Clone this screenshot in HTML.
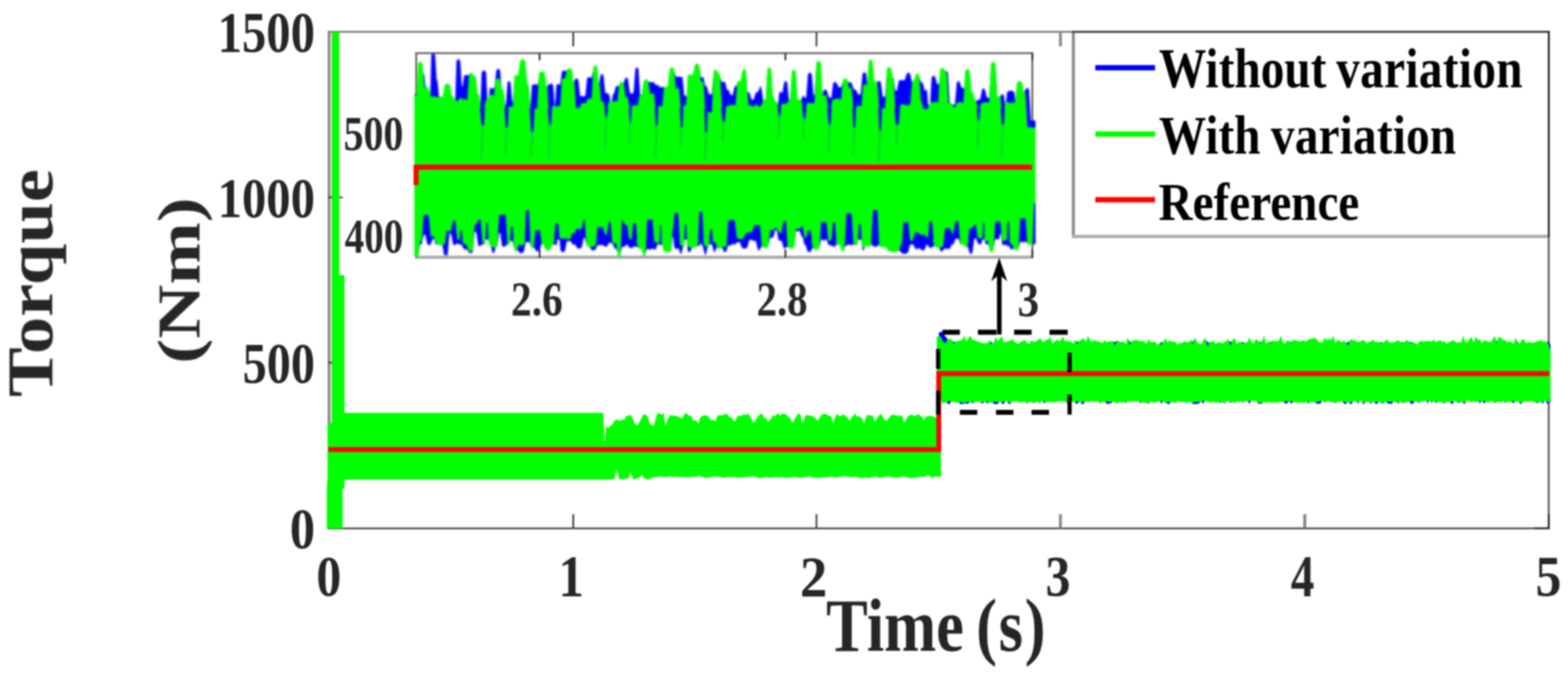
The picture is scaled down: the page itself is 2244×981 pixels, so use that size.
<!DOCTYPE html>
<html lang="en">
<head>
<meta charset="utf-8">
<title>Torque (Nm) - Time (s)</title>
<style>
html,body{margin:0;padding:0;background:#fff;}
body{width:2244px;height:981px;overflow:hidden;}
svg{display:block;}
svg text{font-family:"Liberation Serif",serif;font-weight:bold;}
</style>
</head>
<body>
<svg width="2244" height="981" viewBox="0 0 2244 981">
<defs><filter id="blurPlot" color-interpolation-filters="sRGB" filterUnits="userSpaceOnUse" x="0" y="0" width="2244" height="981"><feGaussianBlur stdDeviation="1.1"/></filter><filter id="blurText" color-interpolation-filters="sRGB" filterUnits="userSpaceOnUse" x="0" y="0" width="2244" height="981"><feGaussianBlur stdDeviation="0.9"/></filter><filter id="soft" color-interpolation-filters="sRGB" x="-2%" y="-5%" width="104%" height="110%"><feGaussianBlur stdDeviation="1.1"/></filter><filter id="soft2" color-interpolation-filters="sRGB" x="-2%" y="-2%" width="104%" height="104%"><feGaussianBlur stdDeviation="0.7"/></filter></defs>
<rect width="2244" height="981" fill="#fff"/>
<g id="plot" filter="url(#blurPlot)">
<g fill="none">
<path d="M473 45 V757" stroke="#c4c4c4" stroke-width="3"/>
<path d="M470.4 45 V757" stroke="#7c7c7c" stroke-width="2.8"/>
<path d="M469 45.6 H2217.6" stroke="#808080" stroke-width="2.6"/>
<path d="M2216.4 45 V757" stroke="#5e5e5e" stroke-width="2.8"/>
<path d="M469 756.7 H2217.6" stroke="#484848" stroke-width="2.4"/>
<path d="M820.4 756.5 V736.2 M820.4 46 V66.5" stroke="#2c2c2c" stroke-width="2.3"/>
<path d="M1168.5 756.5 V736.2 M1168.5 46 V66.5" stroke="#363636" stroke-width="2.3"/>
<path d="M1517.6 756.5 V736.2 M1517.6 46 V66.5" stroke="#8a8a8a" stroke-width="4.2"/>
<path d="M1867.3 756.5 V736.2 M1867.3 46 V66.5" stroke="#828282" stroke-width="4.2"/>
<path d="M469.5 282.6 H490.6 M2217 282.6 H2196" stroke="#3c3c3c" stroke-width="2.4"/>
<path d="M469.5 519.4 H490.6 M2217 519.4 H2196" stroke="#3c3c3c" stroke-width="2.4"/>
<path d="M2216.3 736 V757.6 M2196 756.8 H2217.4 M470.3 736 V757.6 M469 756.8 H490" stroke="#2a2a2a" stroke-width="2.6"/>
</g>
<g filter="url(#soft2)">
<path d="M1344 491.3 1347 489.9 1350 492.2 1353 494.8 1356 488.9 1359 489.5 1362 488.5 1365 489.5 1368 491.3 1371 491.7 1374 490.2 1377 489.9 1380 483.5 1383 492.1 1386 486.9 1389 483.8 1392 489.7 1395 490.3 1398 491.7 1401 492.3 1404 494.1 1407 494.5 1410 493.9 1413 494.5 1416 489.5 1419 489.5 1422 494.1 1425 485.6 1428 491.8 1431 487.8 1434 484.6 1437 493.3 1440 492.5 1443 491.2 1446 491 1449 488.3 1452 492.5 1455 493.9 1458 495.1 1461 491.9 1464 491.4 1467 489.6 1470 494.2 1473 495.2 1476 490.6 1479 492.4 1482 492 1485 490.7 1488 486.8 1491 489.5 1494 493 1497 488.9 1500 490.1 1503 485.2 1506 494.4 1509 489.5 1512 488.9 1515 491.3 1518 490.5 1521 484.8 1524 491.2 1527 491.3 1530 491.7 1533 492.1 1536 494.9 1539 488.9 1542 489.5 1545 489.5 1548 489.5 1551 487.1 1554 493 1557 483.7 1560 490.3 1563 492.7 1566 489.6 1569 491.8 1572 491.6 1575 493.4 1578 493.8 1581 490 1584 493.6 1587 491.6 1590 492 1593 489.5 1596 489.5 1599 489.4 1602 492.3 1605 489.5 1608 491.2 1611 495.8 1614 485.7 1617 489.5 1620 490.8 1623 490.5 1626 489.5 1629 490.7 1632 491.7 1635 490.2 1638 493.5 1641 494.8 1644 488.7 1647 493.4 1650 492.2 1653 492.3 1656 496.7 1659 494.2 1662 489.5 1665 492.1 1668 487.5 1671 493.3 1674 489.5 1677 492.2 1680 492 1683 493.7 1686 495.9 1689 493.8 1692 494.3 1695 491.3 1698 492.7 1701 493.3 1704 488.9 1707 489.5 1710 486.1 1713 489.5 1716 495.1 1719 496 1722 490.4 1725 486.3 1728 489.5 1731 492 1734 489.5 1737 490.6 1740 495.8 1743 493.1 1746 493.3 1749 494.2 1752 493.2 1755 491.1 1758 488.6 1761 489.5 1764 489.6 1767 487 1770 495.3 1773 492.9 1776 491.9 1779 489.5 1782 493.3 1785 493.6 1788 485.9 1791 492.2 1794 495.2 1797 488.8 1800 490.3 1803 489.5 1806 489.5 1809 483.6 1812 495 1815 491.7 1818 489.5 1821 490.6 1824 491.6 1827 491.6 1830 491.1 1833 483.9 1836 493.1 1839 494.9 1842 490.7 1845 490.7 1848 489.5 1851 488.9 1854 490.6 1857 491 1860 492.1 1863 491.3 1866 490 1869 492.4 1872 489.4 1875 488.3 1878 487.7 1881 486.7 1884 488.3 1887 492.7 1890 493.1 1893 493.4 1896 485.9 1899 490.7 1902 487.3 1905 490.6 1908 483.5 1911 494.3 1914 490 1917 490.7 1920 492.8 1923 490.9 1926 492.7 1929 489.5 1932 489 1935 489.9 1938 489.7 1941 492.1 1944 492.6 1947 491.9 1950 490.3 1953 490.7 1956 494.2 1959 489.5 1962 492.1 1965 489.2 1968 493.1 1971 492.4 1974 492.3 1977 489.5 1980 493.4 1983 489.9 1986 489.9 1989 494.6 1992 492.2 1995 493.6 1998 491.6 2001 489.9 2004 492.4 2007 489.5 2010 492.6 2013 489.7 2016 491.3 2019 489.5 2022 492.3 2025 494 2028 495.9 2031 492.4 2034 491.1 2037 492.1 2040 492 2043 491.1 2046 492 2049 492 2052 489.6 2055 493.1 2058 491.3 2061 490 2064 493 2067 491 2070 495.5 2073 492.9 2076 492.1 2079 490.5 2082 491.2 2085 493.7 2088 489.5 2091 493.5 2094 483.5 2097 492.4 2100 493.6 2103 488.6 2106 485.3 2109 494 2112 485.1 2115 490 2118 488.7 2121 494.4 2124 489.8 2127 491.6 2130 492.6 2133 492.8 2136 489.5 2139 483.5 2142 489.5 2145 484.9 2148 486.7 2151 489.5 2154 490.2 2157 492.8 2160 492.1 2163 491.9 2166 495.3 2169 486.2 2172 489.5 2175 494.5 2178 489.7 2181 488.7 2184 494.6 2187 489.5 2190 493.2 2193 493.3 2196 493.8 2199 491.1 2202 491.8 2205 489.8 2208 492.3 2211 492.5 2214 491.1 2217 489.5 L2219 495 V574 L2217 578.1 2214 578 2211 571.4 2208 578.7 2205 572.7 2202 574.6 2199 577.7 2196 573.1 2193 572 2190 571.6 2187 572.5 2184 571.4 2181 571.8 2178 577.9 2175 578.3 2172 571.7 2169 572.6 2166 578 2163 573.5 2160 572.2 2157 572.7 2154 577.7 2151 570.7 2148 574.2 2145 572.2 2142 573 2139 577.8 2136 571.9 2133 571 2130 573.9 2127 573 2124 578.4 2121 572.5 2118 578.3 2115 572.2 2112 573.1 2109 570.7 2106 574 2103 571.4 2100 569.4 2097 578.3 2094 577.8 2091 572.7 2088 577.7 2085 573.6 2082 570.9 2079 578.6 2076 577.7 2073 572.4 2070 572.9 2067 578.2 2064 573.7 2061 572.5 2058 572.9 2055 577.8 2052 572 2049 577.8 2046 571.8 2043 578 2040 570.5 2037 572.5 2034 571.4 2031 578 2028 572.4 2025 572.7 2022 578.4 2019 578.3 2016 572.6 2013 573.1 2010 574.2 2007 577.7 2004 572.5 2001 578.4 1998 573 1995 572.8 1992 578.7 1989 577.7 1986 578.1 1983 572.8 1980 578.1 1977 577.6 1974 573.3 1971 578.5 1968 577.8 1965 572.9 1962 578.8 1959 572.9 1956 572.6 1953 577.7 1950 578.5 1947 569.7 1944 578.5 1941 573.2 1938 570.2 1935 577.9 1932 578.8 1929 573.8 1926 578.8 1923 577.7 1920 571.6 1917 572.2 1914 572.8 1911 577.7 1908 573.2 1905 573.6 1902 571.3 1899 571 1896 574.7 1893 570.4 1890 577.7 1887 578 1884 578.5 1881 573.9 1878 572 1875 573.9 1872 578.3 1869 572.6 1866 574.6 1863 573.3 1860 573.5 1857 574 1854 573 1851 573.9 1848 578.6 1845 573.5 1842 577.6 1839 578 1836 572.8 1833 572.5 1830 572.5 1827 574.3 1824 572.9 1821 573.9 1818 573.1 1815 572.3 1812 574.3 1809 572.3 1806 578.5 1803 577.8 1800 578.5 1797 570.5 1794 570.9 1791 571.6 1788 578.7 1785 572.1 1782 571.2 1779 577.8 1776 571.3 1773 572.9 1770 571.5 1767 578.1 1764 572.8 1761 577.8 1758 571 1755 572.6 1752 578.7 1749 573.2 1746 577.8 1743 572.8 1740 574.4 1737 571.7 1734 573.3 1731 573.6 1728 572.3 1725 571 1722 578.6 1719 573.5 1716 577.8 1713 578.6 1710 578.6 1707 578.8 1704 573.6 1701 572.2 1698 578.4 1695 572.5 1692 573 1689 572.5 1686 570.4 1683 577.8 1680 573.2 1677 573 1674 578 1671 578.7 1668 574.7 1665 572.6 1662 578.4 1659 571.7 1656 572.4 1653 573.5 1650 573.3 1647 572.1 1644 578.7 1641 574.5 1638 574.6 1635 572.8 1632 578.4 1629 571.5 1626 572.6 1623 571.8 1620 572.4 1617 571.8 1614 572.1 1611 577.9 1608 573 1605 574.1 1602 572.5 1599 575 1596 573.5 1593 572.4 1590 577.7 1587 577.7 1584 578.7 1581 573.6 1578 572.1 1575 578.7 1572 572.5 1569 571.4 1566 572.6 1563 571.6 1560 571.8 1557 573.2 1554 571.5 1551 578.3 1548 578.7 1545 573.2 1542 578.2 1539 577.7 1536 572 1533 573.2 1530 572.9 1527 578.3 1524 571.8 1521 571.7 1518 571.5 1515 571.9 1512 572.2 1509 573.4 1506 572.9 1503 572.4 1500 572.8 1497 573.8 1494 577.9 1491 571.1 1488 578.6 1485 572 1482 573.4 1479 577.9 1476 572.8 1473 573.2 1470 578.2 1467 572.8 1464 571.8 1461 574 1458 572.8 1455 571.7 1452 571.6 1449 572.2 1446 578.8 1443 578.1 1440 571.4 1437 578 1434 578.6 1431 572.7 1428 578.7 1425 578.8 1422 578.2 1419 574 1416 573.9 1413 578.2 1410 573.5 1407 577.6 1404 577.6 1401 571.5 1398 572.7 1395 573.2 1392 578.2 1389 573.4 1386 578.3 1383 578 1380 577.9 1377 578.5 1374 578.6 1371 573.8 1368 573.4 1365 572.5 1362 572.5 1359 578.7 1356 578 1353 573 1350 578.3 1347 571.6 1344 578.4Z" fill="#0000ff"/>
<path d="M1343.5 476.5 L1347.5 474.8 L1351.5 480 L1357 486.5 L1356 492.5 L1351 493.5 L1347.5 488 L1344 483 Z" fill="#0000ff"/>
<path d="M475 46 H485.6 V394 H493 V591.2 H863.6 V600 L864.8 631 L865.8 631 L867 612.5 L868 610.6 870 613 872 611.4 874 609.3 876 609.1 878 604.4 880 601.7 882 601.4 884 600.8 886 601.7 888 602.6 890 600.8 892 600.6 894 600.6 896 595.5 898 595.9 900 594.7 902 593.9 904 596.4 906 600 908 605 910 608.4 912 608.4 914 606.8 916 602.3 918 599 920 594.5 922 592.7 924 594.4 926 594.9 928 599.5 930 606.9 932 608.2 934 608.4 936 609.1 938 600.7 940 593.7 942 592 944 591.2 946 594.1 948 593.2 950 591.2 952 608.7 954 606 956 598.7 958 596.2 960 593.4 962 596.3 964 594.3 966 595.5 968 596.1 970 596.6 972 596.8 974 598.8 976 599 978 596.2 980 592.1 982 591.4 984 594.1 986 594.6 988 596.1 990 596.7 992 602.3 994 602.6 996 601.6 998 604.9 1000 606.5 1002 597.7 1004 596.6 1006 595.2 1008 594.7 1010 594.7 1012 595.5 1014 596.5 1016 599.9 1018 601.9 1020 600.7 1022 602 1024 603.2 1026 596.3 1028 595 1030 594.8 1032 594.5 1034 594.8 1036 593.7 1038 591.9 1040 593.1 1042 594.2 1044 597.4 1046 597.6 1048 599.3 1050 602.9 1052 603.2 1054 598.6 1056 595.1 1058 595.6 1060 595.1 1062 595.3 1064 592.6 1066 594.2 1068 594.1 1070 592.2 1072 594 1074 597.3 1076 600.7 1078 605.5 1080 603.9 1082 601.5 1084 596.8 1086 595.4 1088 593.1 1090 592.5 1092 594.2 1094 599.2 1096 597.9 1098 601.7 1100 604 1102 600.1 1104 599.5 1106 593.6 1108 595.7 1110 596.1 1112 592 1114 592.9 1116 595.1 1118 593.4 1120 592.3 1122 592.9 1124 592.5 1126 594.8 1128 596.5 1130 597.7 1132 601.2 1134 605.8 1136 603.3 1138 598.2 1140 595.7 1142 592.5 1144 592.3 1146 595.1 1148 605.7 1150 602.9 1152 596.5 1154 593.7 1156 595.2 1158 594.8 1160 595.3 1162 595.8 1164 597 1166 597.7 1168 600.3 1170 602.2 1172 599.9 1174 596.7 1176 594.1 1178 593.1 1180 592.8 1182 592.4 1184 593.8 1186 595.7 1188 595.6 1190 596.7 1192 606.5 1194 599.5 1196 596.4 1198 592.3 1200 595.1 1202 595.8 1204 595.5 1206 593.7 1208 594 1210 595.6 1212 597.5 1214 599.4 1216 602.8 1218 598.6 1220 596.5 1222 594.8 1224 591.5 1226 596.8 1228 596.1 1230 596.2 1232 597.9 1234 599.3 1236 606.9 1238 601.2 1240 595.7 1242 594.2 1244 594.7 1246 595.2 1248 595.2 1250 595.9 1252 604.8 1254 599.8 1256 598.1 1258 595.1 1260 592.8 1262 594.2 1264 597.8 1266 601.7 1268 602.3 1270 600.7 1272 599.1 1274 595.9 1276 594.3 1278 593.9 1280 594 1282 595.2 1284 595.2 1286 594.3 1288 596.8 1290 594 1292 597.7 1294 605.7 1296 602.1 1298 598.3 1300 595.6 1302 595.2 1304 593.3 1306 594.7 1308 595.2 1310 595.8 1312 594.1 1314 593.2 1316 594.2 1318 596 1320 597.8 1322 602 1324 598 1326 595.7 1328 597.1 1330 594.8 1332 595.8 1334 596 1336 596.8 1338 597.6 1340.6 598 L1340.6 482 L1346 482 L1349 487 L1344 488.3 1347 486.9 1350 489.2 1353 491.8 1356 485.9 1359 485.5 1362 485.5 1365 492.8 1368 488.3 1371 488.7 1374 487.2 1377 486.9 1380 480.5 1383 489.1 1386 483.9 1389 480.8 1392 486.7 1395 487.3 1398 488.7 1401 489.3 1404 491.1 1407 491.5 1410 490.9 1413 491.5 1416 486.5 1419 493.5 1422 491.1 1425 482.6 1428 488.8 1431 484.8 1434 481.6 1437 490.3 1440 489.5 1443 488.2 1446 488 1449 485.3 1452 489.5 1455 490.9 1458 492.1 1461 488.9 1464 488.4 1467 486.6 1470 491.2 1473 492.2 1476 487.6 1479 489.4 1482 489 1485 487.7 1488 483.8 1491 488.1 1494 490 1497 485.9 1500 487.1 1503 482.2 1506 491.4 1509 489.8 1512 485.9 1515 488.3 1518 487.5 1521 481.8 1524 488.2 1527 488.3 1530 488.7 1533 489.1 1536 491.9 1539 485.9 1542 492.7 1545 487.6 1548 486.5 1551 484.1 1554 490 1557 480.7 1560 487.3 1563 489.7 1566 486.6 1569 488.8 1572 488.6 1575 490.4 1578 490.8 1581 487 1584 490.6 1587 488.6 1590 489 1593 488.4 1596 494.9 1599 486.4 1602 489.3 1605 491.1 1608 488.2 1611 492.8 1614 482.7 1617 494 1620 487.8 1623 487.5 1626 486.5 1629 487.7 1632 488.7 1635 487.2 1638 490.5 1641 491.8 1644 485.7 1647 490.4 1650 489.2 1653 489.3 1656 493.7 1659 491.2 1662 494.1 1665 489.1 1668 484.5 1671 490.3 1674 487.3 1677 489.2 1680 489 1683 490.7 1686 492.9 1689 490.8 1692 491.3 1695 488.3 1698 489.7 1701 490.3 1704 485.9 1707 492.9 1710 483.1 1713 489.6 1716 492.1 1719 493 1722 487.4 1725 483.3 1728 497 1731 489 1734 490.5 1737 487.6 1740 492.8 1743 490.1 1746 490.3 1749 491.2 1752 490.2 1755 488.1 1758 485.6 1761 495.3 1764 486.6 1767 484 1770 492.3 1773 489.9 1776 488.9 1779 492.8 1782 490.3 1785 490.6 1788 482.9 1791 489.2 1794 492.2 1797 485.8 1800 487.3 1803 490.6 1806 490.6 1809 480.6 1812 492 1815 488.7 1818 491.9 1821 487.6 1824 488.6 1827 488.6 1830 488.1 1833 480.9 1836 490.1 1839 491.9 1842 487.7 1845 487.7 1848 491.2 1851 485.9 1854 487.6 1857 488 1860 489.1 1863 488.3 1866 487 1869 489.4 1872 486.4 1875 485.3 1878 484.7 1881 483.7 1884 485.3 1887 489.7 1890 490.1 1893 490.4 1896 482.9 1899 487.7 1902 484.3 1905 487.6 1908 480.5 1911 491.3 1914 487 1917 487.7 1920 489.8 1923 487.9 1926 489.7 1929 494.8 1932 486 1935 486.9 1938 486.7 1941 489.1 1944 489.6 1947 488.9 1950 487.3 1953 487.7 1956 491.2 1959 491 1962 489.1 1965 486.2 1968 490.1 1971 489.4 1974 489.3 1977 492.3 1980 490.4 1983 486.9 1986 486.9 1989 491.6 1992 489.2 1995 490.6 1998 488.6 2001 486.9 2004 489.4 2007 492 2010 489.6 2013 486.7 2016 488.3 2019 492.2 2022 489.3 2025 491 2028 492.9 2031 489.4 2034 488.1 2037 489.1 2040 489 2043 488.1 2046 489 2049 489 2052 486.6 2055 490.1 2058 488.3 2061 487 2064 490 2067 488 2070 492.5 2073 489.9 2076 489.1 2079 487.5 2082 488.2 2085 490.7 2088 490.7 2091 490.5 2094 480.5 2097 489.4 2100 490.6 2103 485.6 2106 482.3 2109 491 2112 482.1 2115 487 2118 485.7 2121 491.4 2124 486.8 2127 488.6 2130 489.6 2133 489.8 2136 486.5 2139 480.5 2142 492.1 2145 481.9 2148 483.7 2151 486.5 2154 487.2 2157 489.8 2160 489.1 2163 488.9 2166 492.3 2169 483.2 2172 491.3 2175 491.5 2178 486.7 2181 485.7 2184 491.6 2187 489.7 2190 490.2 2193 490.3 2196 490.8 2199 488.1 2202 488.8 2205 486.8 2208 489.3 2211 489.5 2214 488.1 2217 495.7 L2219 502 L2219 570 L2217 576.8 2214 575 2211 574.4 2208 575 2205 575.7 2202 577.6 2199 575.1 2196 576.1 2193 575 2190 574.6 2187 575.5 2184 574.4 2181 574.8 2178 576.7 2175 576.9 2172 574.7 2169 575.6 2166 573.7 2163 576.5 2160 575.2 2157 575.7 2154 575.3 2151 573.7 2148 577.2 2145 575.2 2142 576 2139 576.9 2136 574.9 2133 574 2130 576.9 2127 576 2124 573.7 2121 575.5 2118 574.6 2115 575.2 2112 576.1 2109 573.7 2106 577 2103 574.4 2100 572.4 2097 576.7 2094 576.3 2091 575.7 2088 575.1 2085 576.6 2082 573.9 2079 574.8 2076 576.4 2073 575.4 2070 575.9 2067 576 2064 576.7 2061 575.5 2058 575.9 2055 574.6 2052 575 2049 576.3 2046 574.8 2043 574.3 2040 573.5 2037 575.5 2034 574.4 2031 575.6 2028 575.4 2025 575.7 2022 574.4 2019 574.4 2016 575.6 2013 576.1 2010 577.2 2007 576.5 2004 575.5 2001 575.5 1998 576 1995 575.8 1992 576.1 1989 575 1986 575.1 1983 575.8 1980 578.3 1977 576 1974 576.3 1971 575.7 1968 575.8 1965 575.9 1962 575.8 1959 575.9 1956 575.6 1953 575.9 1950 577.2 1947 572.7 1944 575.5 1941 576.2 1938 573.2 1935 575.6 1932 577 1929 576.8 1926 576.3 1923 574.8 1920 574.6 1917 575.2 1914 575.8 1911 575.9 1908 576.2 1905 576.6 1902 574.3 1899 574 1896 577.7 1893 573.4 1890 574.3 1887 575.1 1884 576.4 1881 576.9 1878 575 1875 576.9 1872 575.6 1869 575.6 1866 577.6 1863 576.3 1860 576.5 1857 577 1854 576 1851 576.9 1848 573.8 1845 576.5 1842 574.5 1839 574.4 1836 575.8 1833 575.5 1830 575.5 1827 577.3 1824 575.9 1821 576.9 1818 576.1 1815 575.3 1812 577.3 1809 575.3 1806 576.2 1803 577 1800 577 1797 573.5 1794 573.9 1791 574.6 1788 574 1785 575.1 1782 574.2 1779 575.7 1776 574.3 1773 575.9 1770 574.5 1767 576.7 1764 575.8 1761 575 1758 574 1755 575.6 1752 577.1 1749 576.2 1746 575 1743 575.8 1740 577.4 1737 574.7 1734 576.3 1731 576.6 1728 575.3 1725 574 1722 573.3 1719 576.5 1716 575.3 1713 575.7 1710 575.4 1707 577.6 1704 576.6 1701 575.2 1698 577 1695 575.5 1692 576 1689 575.5 1686 573.4 1683 576.5 1680 576.2 1677 576 1674 576 1671 575.4 1668 577.7 1665 575.6 1662 573.7 1659 574.7 1656 575.4 1653 576.5 1650 576.3 1647 575.1 1644 576.2 1641 577.5 1638 577.6 1635 575.8 1632 575.6 1629 574.5 1626 575.6 1623 574.8 1620 575.4 1617 574.8 1614 575.1 1611 576.4 1608 576 1605 577.1 1602 575.5 1599 578 1596 576.5 1593 575.4 1590 575.3 1587 575.7 1584 574.5 1581 576.6 1578 575.1 1575 577.9 1572 575.5 1569 574.4 1566 575.6 1563 574.6 1560 574.8 1557 576.2 1554 574.5 1551 575 1548 576.4 1545 576.2 1542 573.9 1539 576.8 1536 575 1533 576.2 1530 575.9 1527 576.9 1524 574.8 1521 574.7 1518 574.5 1515 574.9 1512 575.2 1509 576.4 1506 575.9 1503 575.4 1500 575.8 1497 576.8 1494 574.2 1491 574.1 1488 578.3 1485 575 1482 576.4 1479 576.8 1476 575.8 1473 576.2 1470 575.9 1467 575.8 1464 574.8 1461 577 1458 575.8 1455 574.7 1452 574.6 1449 575.2 1446 577.8 1443 575.4 1440 574.4 1437 574.9 1434 576.6 1431 575.7 1428 575.7 1425 575.6 1422 575.3 1419 577 1416 576.9 1413 574.2 1410 576.5 1407 575.8 1404 576.4 1401 574.5 1398 575.7 1395 576.2 1392 575.1 1389 576.4 1386 575.4 1383 576.4 1380 577.3 1377 576.2 1374 575.7 1371 576.8 1368 576.4 1365 575.5 1362 575.5 1359 574.1 1356 575.2 1353 576 1350 577.5 1347 574.6 1344 576.2 L1346.7 577 L1346.7 683 1340 682.4 1335.2 683.5 1332.1 683.5 1327.5 680.6 1322.4 683.2 1318.6 682.3 1311.9 684 1307.5 684 1303.8 685.1 1299.1 683.9 1293.2 682 1287.9 683.6 1283.3 683.9 1278.6 683.7 1275.1 682.7 1271.8 682.5 1267.2 682.8 1262.3 683.8 1257.9 684.6 1253 681.9 1247 683.8 1243.1 684.9 1239.4 683.4 1233.7 684.9 1230.5 684.3 1223.8 682.4 1220.4 683.4 1215.3 682.9 1210.1 682.3 1204.5 682.3 1200.7 683.2 1194.2 684.1 1189.4 682.2 1182.4 684 1179 683.5 1173.8 684.4 1167.7 684 1164 683.9 1158.9 681.9 1154.6 683.3 1148.6 683.7 1145 684.4 1141.1 683.5 1136.9 683 1131.6 683.9 1124.8 684.4 1119.1 683 1115.7 684.3 1111.1 682.9 1106.5 684.1 1100.1 684 1096.5 683 1092.8 683.8 1086.5 684.9 1082.6 683 1077.7 682.3 1074.3 682.7 1071.3 682.7 1065.4 683.6 1060.6 684 1056.9 684 1051.5 683 1047.6 683 1042.4 683 1037.2 684.1 1033.4 683.5 1026.6 682.8 1020.9 682 1017.4 683.5 1010.8 684.6 1005.9 683.6 999.9 681.1 995.4 683.1 991 682.7 986.2 683.6 979.4 683.6 975.8 683.3 971.6 682.9 966.4 682.4 963.1 683.3 958.9 681.8 955 682.9 949.1 683 944 682.1 940 683.5 934 684 927.5 686.7 922 685 918.5 680.5 915 684 906 686.7 902.5 676.5 900 685 886 686.5 882.5 671.5 880 685 875 686.7 867 686.7 L866 686.7 H493 V700 H490.2 V757.3 H467.6 V700 L468.7 686 V606 H475 Z" fill="#00ff00"/>
</g>
<path d="M470 643.7 H1343.4 V535 H2217" fill="none" stroke="#ff0000" stroke-width="7" stroke-linejoin="miter"/>
<rect x="1536" y="45.6" width="680.4" height="293" fill="#fff"/>
<g fill="none">
<path d="M1536.1 45 V340.5" stroke="#8c8c8c" stroke-width="4.4"/>
<path d="M1534 338.6 H2217" stroke="#adadad" stroke-width="4.6"/>
<path d="M1534 45.6 H2217.6" stroke="#3c3c3c" stroke-width="2.6"/>
<path d="M2216.5 44.5 V340" stroke="#2c2c2c" stroke-width="2.8"/>
</g>
<rect x="1567.5" y="93.2" width="85.5" height="7.6" fill="#0000ff"/>
<rect x="1567.5" y="188.2" width="85.5" height="7.6" fill="#00ff00"/>
<rect x="1567.5" y="282.2" width="85.5" height="7.6" fill="#ff0000"/>
<rect x="595.5" y="75.8" width="881.8" height="291.8" fill="#fff"/>
<g fill="none">
<path d="M594.3 368.4 H1479" stroke="#adadad" stroke-width="4.6"/>
<path d="M595.7 75 V369 M1477.4 75 V369" stroke="#6c6c6c" stroke-width="2.8"/>
<path d="M594.3 76.1 H1478.8" stroke="#6c6c6c" stroke-width="2.8"/>
<path d="M772.2 76 v10.5 M772.2 369 v-11.5" stroke="#3a3a3a" stroke-width="2.6"/>
<path d="M1124 76 v10.5 M1124 369 v-11.5" stroke="#3a3a3a" stroke-width="2.6"/>
<path d="M1477.2 76 v10.5 M1477.2 369 v-11.5" stroke="#3a3a3a" stroke-width="2.6"/>
</g>
<g filter="url(#soft)">
<path d="M593 134.9 596.7 134.6 599.3 93.9 600.5 91.7 602.5 91.7 603.7 93.9 605.9 106.2 607.1 106.6 609.3 128.1 613.7 130.2 615.3 141.4 615.7 141.3 617.3 78.4 618.8 76.2 621.2 76.2 622.7 78.4 624.9 114.3 626.1 115.5 628.3 138.4 632.7 138.8 634.3 142.2 634.7 141.8 636.3 123.1 638.7 123.5 641.3 122 641.8 121.2 643.2 121.2 643.7 122 646.3 139.9 648.7 140.4 650.6 148.1 651.4 147.6 653.3 87.2 654.8 85 657.2 85 658.7 87.2 660.9 124.1 662.1 123.4 664.3 107.8 668.7 107.5 671.3 107.4 672.8 107.3 675.2 107.3 676.7 107.4 679.2 110.2 680.8 109 683.3 137.4 685.7 138.7 687.3 150.1 687.7 150 689.3 103.4 691.1 101.2 693.9 101.2 695.7 103.4 697.6 146 698.4 145.8 699.3 140.4 699.7 140 701.3 124.9 704.5 127.5 707.7 124.9 710.3 100.9 711.8 98.7 714.2 98.7 715.7 100.9 718.3 132.1 720.7 130.7 722.9 150.5 724.1 150.5 726.3 118.4 727.5 116.2 729.5 116.2 730.7 118.4 732.9 145.4 734.1 144.6 736.3 110.4 739 112.3 741.7 110.4 744.3 90.2 746.5 88 749.5 88 751.7 90.2 754.3 122.5 756.7 123.6 758.6 150.2 759.4 151 761.3 121.2 765.5 120.7 769.7 121.2 772.3 107.6 774.5 105.4 777.5 105.4 779.7 107.6 781.6 127.1 782.4 127.2 784.3 122.1 786.5 119.9 789.5 119.9 791.7 122.1 793.6 149.8 794.4 150 796.3 121.2 799 120.6 801.7 121.2 804.3 101.2 807 101.8 809.7 101.2 812.3 101.1 814.1 101.1 816.9 101.1 818.7 101.1 820.3 123.3 820.7 122.7 822.3 114.6 823.8 112.4 826.2 112.4 827.7 114.6 830.3 137.4 834 137.8 837.7 137.4 840.3 111.2 843.5 110.4 846.7 111.2 849.3 98.9 850.8 96.7 853.2 96.7 854.7 98.9 856.6 122.6 857.4 121.8 859.3 108.4 860.5 106.2 862.5 106.2 863.7 108.4 866.3 132.9 868.7 133.2 870.9 135 872.1 135.8 873.9 148 875.1 147.9 877.2 135.1 878.8 134 881.3 123.7 885.7 123.1 888.3 120.1 891.7 121.6 894.3 113.4 895.5 111.2 897.5 111.2 898.7 113.4 901.3 132.4 904 134.8 906.7 132.4 909.3 99 910.5 96.8 912.5 96.8 913.7 99 916.3 138.5 918.7 138.2 921.3 117 923.1 116.7 925.9 116.7 927.7 117 930.3 117.4 933 118.1 935.7 117.4 938.3 121.8 941.7 121.7 944.3 125.1 948.7 124.6 951.3 126.2 955.7 126.6 958.3 102 960.1 99.8 962.9 99.8 964.7 102 967.3 109.9 970.4 109.8 973.6 110.2 976.7 109.9 979.3 136.9 983.7 137.4 986.3 109.2 989 107.6 991.7 109.2 994.3 96.4 996.1 94.2 998.9 94.2 1000.7 96.4 1003.3 110.7 1006.7 110.8 1009.3 123 1011.7 123.9 1014.3 134.8 1018.7 135 1021.3 105.1 1022.8 102.9 1025.2 102.9 1026.7 105.1 1029.2 110.5 1030.8 111.2 1033.3 117.7 1037.7 116.9 1040.3 128.7 1042.7 128.6 1045.3 135.7 1048.7 136.3 1051.2 123.6 1052.8 124.5 1055.3 119.1 1059.7 119.4 1062.3 104.5 1063.8 102.3 1066.2 102.3 1067.7 104.5 1069.3 131.5 1069.7 131.9 1071.2 132.6 1071.4 132.4 1072.6 132.4 1072.8 132.6 1075.3 142.6 1078.7 142.5 1081.3 132.9 1084.7 131.7 1087.3 125.9 1087.8 123.7 1089.2 123.7 1089.7 125.9 1092.3 145.2 1095.7 143.9 1098.3 102 1099.8 99.8 1102.2 99.8 1103.7 102 1105.9 139.9 1107.1 140.1 1109.3 147.8 1111.7 147.5 1113.3 150.6 1113.7 149.1 1115.3 131.6 1119.7 132.7 1122.3 118.4 1123.5 116.2 1125.5 116.2 1126.7 118.4 1129.2 145.1 1130.8 146.2 1133.3 105.1 1134.8 102.9 1137.2 102.9 1138.7 105.1 1141.3 144.1 1144 145 1146.7 144.1 1148.6 137.6 1149.4 136.4 1151.3 139.5 1153.7 140 1156.3 106.5 1157.8 104.3 1160.2 104.3 1161.7 106.5 1164.2 135.7 1165.8 136.3 1168.3 92.7 1170.2 90.5 1172.8 90.5 1174.7 92.7 1176.3 139.3 1176.7 138.6 1178.3 130.8 1179.8 128.6 1182.2 128.6 1183.7 130.8 1186.3 139.2 1189.7 140.5 1192.3 119.6 1193.8 117.4 1196.2 117.4 1197.7 119.6 1200.3 124.9 1203.7 124.9 1206.3 116.4 1208.2 115.4 1210.8 115.4 1212.7 116.4 1215.3 118 1218.7 118.5 1221.3 127 1225.7 129.5 1228.3 135.5 1231.7 134.7 1234.3 105.9 1235.8 103.7 1238.2 103.7 1239.7 105.9 1241.3 124.9 1241.7 124.1 1243.3 90.8 1244.8 88.6 1247.2 88.6 1248.7 90.8 1250.9 121.4 1252.1 121.1 1254.3 118.3 1256.2 116.2 1258.8 116.2 1260.7 118.3 1263.3 138.9 1266.7 138.3 1269.3 101.4 1270.8 99.2 1273.2 99.2 1274.7 101.4 1277.2 112.5 1278.8 111.9 1281.3 129.5 1283.7 130 1286.3 114.9 1290.5 114.8 1294.7 114.9 1297.3 106.5 1298.8 104.3 1301.2 104.3 1302.7 106.5 1305.3 118.8 1307.7 120.2 1310.3 110.8 1311.8 108.6 1314.2 108.6 1315.7 110.8 1318.3 118.3 1320.7 118.6 1323.3 129.9 1326.7 128.6 1328.3 151.6 1328.7 149.7 1329.9 150.8 1331.1 149.1 1333.3 110.9 1334.8 108.7 1337.2 108.7 1338.7 110.9 1341.3 121.1 1343.7 120.2 1346.3 101.4 1347.5 100.5 1349.5 100.5 1350.7 101.4 1353.3 102.1 1356.7 103.2 1359.3 150.8 1361.7 150.7 1364.3 150.3 1366.7 148.9 1369.3 118.4 1370.5 116.2 1372.5 116.2 1373.7 118.4 1376.3 125.5 1379.7 126.5 1382.3 104.5 1383.8 102.3 1386.2 102.3 1387.7 104.5 1390.3 133.2 1392.7 132.7 1395.2 145.7 1396.8 145.7 1399.3 142.8 1402.7 142.7 1405.3 129 1406.5 126.8 1408.5 126.8 1409.7 129 1412.3 139.2 1415.7 140.5 1418.3 93.9 1420.2 91.7 1422.8 91.7 1424.7 93.9 1427.3 139.8 1429.7 139.5 1432.3 137.1 1433.5 134.9 1435.5 134.9 1436.7 137.1 1438.6 150.4 1439.4 149.6 1441.3 132.1 1444.5 129.9 1448.5 129.9 1451.7 132.1 1453.3 149.7 1453.7 150.4 1455.3 121.4 1457.5 119.2 1460.5 119.2 1462.7 121.4 1464.6 134.9 1465.4 134.9 1467.3 128.4 1468.8 126.2 1471.2 126.2 1472.7 128.4 1475.3 172.3 1478.7 172.9 1482 172.3 L1482 350 1478.7 349.7 1475.3 350 1472.7 347.9 1470.3 347.7 1467.7 346.1 1464 347.1 1460.3 346.1 1457.7 355.6 1454.5 354.5 1451.3 355.6 1448.7 356.5 1448.2 357.4 1446.8 357.4 1446.3 356.5 1443.8 351.3 1442.2 353.5 1439.7 350 1437 351.6 1434.3 350 1432.4 333.6 1431.6 335.1 1429.7 342.4 1427 342.8 1424.3 342.4 1421.7 355.9 1420.2 358.1 1417.8 358.1 1416.3 355.9 1413.7 349.4 1410.3 349.4 1408.1 339 1406.9 340.2 1404.7 347.8 1403.2 350 1400.8 350 1399.3 347.8 1396.7 341.3 1394.3 341.8 1391.7 361.4 1390.5 363.6 1388.5 363.6 1387.3 361.4 1384.7 351.2 1381.3 351.7 1378.7 349.3 1374.3 349.6 1371.7 341.8 1367.3 342 1364.7 350.4 1362.3 349.6 1359.7 356.1 1356 356.4 1352.3 356.1 1349.7 358 1348.5 359.9 1346.5 359.9 1345.3 358 1342.7 351.9 1340 350.2 1337.3 351.9 1334.7 353.4 1333.2 354.9 1330.8 354.9 1329.3 353.4 1327.1 350.5 1325.9 349.8 1323.7 356.7 1321.8 358.6 1319.2 358.6 1317.3 356.7 1314.7 354.9 1312 357.6 1309.3 354.9 1306.7 349.7 1302.3 350.8 1299.7 361.4 1296.5 363.6 1292.5 363.6 1289.3 361.4 1286.7 358.1 1283.4 356.8 1280.1 358.8 1276.9 357.2 1273.6 358.9 1270.3 358.1 1267.7 350.6 1264.6 348.5 1261.4 351.5 1258.3 350.6 1255.7 352.1 1253.8 353.6 1251.2 353.6 1249.3 352.1 1246.7 349.4 1243 350.7 1239.3 349.4 1236.7 356.4 1236.2 358.6 1234.8 358.6 1234.3 356.4 1231.7 337.7 1229.3 338.4 1226.7 350 1224 350.8 1221.3 350 1218.7 351.1 1215 350.5 1211.3 351.1 1208.7 354.7 1207.5 356.9 1205.5 356.9 1204.3 354.7 1201.7 348.4 1198.3 348.1 1195.7 351.8 1194.5 353.6 1192.5 353.6 1191.3 351.8 1188.7 351.8 1185.3 349.9 1182.7 342.4 1179 344.8 1175.3 342.4 1172.7 354.4 1169.6 351.4 1166.4 354.8 1163.3 354.4 1160.7 358.9 1159.2 361.1 1156.8 361.1 1155.3 358.9 1152.8 350.4 1151.2 350.2 1148.8 339.3 1147.2 339.1 1144.7 331.2 1142 331.1 1139.3 331.2 1136.7 353.1 1133.6 352.5 1130.4 349.2 1127.3 353.1 1124.7 354.6 1123.9 356.1 1122.1 356.1 1121.3 354.6 1118.7 344.9 1114.3 344.3 1111.7 329.6 1109.3 329.8 1106.7 340.3 1102.3 340.6 1099.7 351.9 1096.6 353.1 1093.4 355.1 1090.3 351.9 1087.7 356.4 1086.9 358.6 1085.1 358.6 1084.3 356.4 1081.7 344.7 1079.3 345.5 1076.7 343.8 1072.3 343.4 1069.7 353.9 1067.2 356.1 1063.8 356.1 1061.3 353.9 1058.7 346.5 1054.3 347.2 1051.7 351.1 1048.6 348.8 1045.4 351.9 1042.3 351.1 1039.7 358.9 1038.5 361.1 1036.5 361.1 1035.3 358.9 1032.7 353.1 1029.5 352.7 1026.3 353.1 1023.7 358.9 1023.2 361.1 1021.8 361.1 1021.3 358.9 1018.7 349.5 1016.3 349.7 1014.1 351.1 1012.9 352.5 1010.7 362.7 1010.2 364.9 1008.8 364.9 1008.3 362.7 1005.7 352.4 1003 348.3 1000.3 352.4 997.7 351.9 994.5 351.5 991.3 351.9 988.7 358.9 987.5 361.1 985.5 361.1 984.3 358.9 981.8 332.7 980.2 331.9 978.4 351.3 977.6 352.8 975.7 361.4 975.2 363.6 973.8 363.6 973.3 361.4 970.7 354.9 968 356.9 965.3 354.9 963.4 339.3 962.6 339 960.7 355.9 957.1 358.1 952.9 358.1 949.3 355.9 947.7 350.7 947.3 349.8 946.1 350.4 944.9 350.7 942.8 349.9 941.2 349.5 938.7 356.7 938.2 357.4 936.8 357.4 936.3 356.7 933.7 356.1 930 357.8 926.3 356.1 923.7 362.1 922.9 364.3 921.1 364.3 920.3 362.1 917.7 352.7 913.3 353.4 910.7 353.6 907.3 352.7 903.9 355.7 900.5 354.3 897.1 350.1 893.7 353.3 890.3 353.6 887.7 363.4 886.9 365.6 885.1 365.6 884.3 363.4 881.7 356.1 879.3 355.6 877.1 349.3 875.9 349.5 873.7 347.4 871.3 348 868.7 352.4 867.9 353.6 866.1 353.6 865.3 352.4 862.7 351.1 859 350.8 855.3 351.1 852.7 356.4 850.5 358.6 847.5 358.6 845.3 356.4 842.7 350.9 839.3 350.4 836.8 340.3 835.2 341.1 832.7 353.9 830.5 356.1 827.5 356.1 825.3 353.9 822.7 350 819.3 350.2 816.7 344.9 814 345.7 811.3 344.9 808.7 358.9 806.9 361.1 804.1 361.1 802.3 358.9 800.1 336.9 798.9 336.8 796.7 350.6 796.2 351.1 794.8 351.1 794.3 350.6 791.8 349.9 790.2 350.9 787.7 353.4 785.5 355.6 782.5 355.6 780.3 353.4 777.7 349.3 775.3 347.6 772.7 357.7 770.9 359.9 768.1 359.9 766.3 357.7 763.7 353.3 760.3 353.4 757.7 347.4 755 346.2 752.3 347.4 749.7 360.2 747.5 362.4 744.5 362.4 742.3 360.2 739.7 357.5 736.3 357 733.7 346.5 731.3 344 728.7 348.8 726.3 349.2 723.7 351.5 722.2 353.6 719.8 353.6 718.3 351.5 715.8 333.7 714.2 333.8 711.8 352.6 710.2 351.8 707.7 360.2 706.9 362.4 705.1 362.4 704.3 360.2 701.8 348.4 700.2 347.9 697.8 339 696.2 338 693.7 349.2 690.3 350.2 687.7 351.2 686.9 352.4 685.1 352.4 684.3 351.2 681.7 332.3 679.3 332 676.7 360.2 674.9 362.4 672.1 362.4 670.3 360.2 667.7 357 663.3 356.6 660.8 350.1 659.2 350.7 656.7 349.4 654.3 348.8 651.7 349.9 650.9 351.1 649.1 351.1 648.3 349.9 645.7 335.1 643.3 333.7 640.7 363.9 639.2 366.1 636.8 366.1 635.3 363.9 632.7 348.1 628.3 348.5 625.7 349.4 625.2 350 623.8 350 623.3 349.4 620.8 342.2 619.2 342 616.7 348.9 615.2 351.1 612.8 351.1 611.3 348.9 608.7 336.1 606.3 336.5 603.7 349.1 601.3 350.5 598.7 364.8 593 365Z" fill="#0000ff"/>
<path d="M593 136.3 595.8 137 598.3 90.9 600.1 88.7 602.9 88.7 604.7 90.9 607.3 126.2 610.5 124.5 613.7 126.2 616.3 138.6 619.8 138.1 623.3 138.6 626.7 139 630.2 138.7 633.7 138.6 636.3 122.1 638.5 119.9 641.5 119.9 643.7 122.1 646.3 136.9 648.7 137.5 651.3 146.1 653.7 144.3 656.3 143.6 659.4 139.5 662.5 142.2 665.6 142 668.7 143.6 671.3 106.5 672.8 104.3 675.2 104.3 676.7 106.5 679.2 110.1 680.8 110.8 683.3 134.4 685.7 134.8 688.3 156.3 692.7 157.5 695.3 142.8 697.7 142.3 700.3 137.4 703.5 134.7 706.7 137.4 709.3 114.6 711.1 112.4 713.9 112.4 715.7 114.6 718.3 127.7 720.7 127.9 723.3 155.8 726.7 154.8 729.3 152.5 733.7 153.2 736.3 107.4 739 108.1 741.7 107.4 744.3 87.2 746.5 85 749.5 85 751.7 87.2 754.3 120.7 756.7 119.7 759.3 156.3 763.7 156 766.3 155.3 768.7 155.4 771.3 104.6 773.9 102.4 777.1 102.4 779.7 104.6 781.9 122.9 783.1 122.8 785.3 155.4 788.7 156.6 791.3 151.1 794.8 151.8 798.2 152.4 801.7 151.1 804.3 111.9 808.7 112.5 811.3 100.3 813.5 98.1 816.5 98.1 818.7 100.3 820.9 120.2 822.1 118.8 824.3 154.9 827 154.3 829.7 154.9 832.3 147.4 835.5 147.8 838.7 147.4 841.3 141.1 844 141.4 846.7 141.1 849.3 95.9 850.8 93.7 853.2 93.7 854.7 95.9 856.9 119.5 858.1 119.8 860.3 145.3 863.7 145.2 866.3 156.4 868.7 156.2 871.3 144.9 874.4 144.8 877.5 145.6 880.6 144.6 883.7 144.9 886.3 119.6 888.1 117.4 890.9 117.4 892.7 119.6 895.3 138.8 898.7 140 901.2 155.1 902.8 155.3 905.3 151.1 909 150.4 912.7 151.1 915.3 135.4 918.7 134.8 921.3 115.9 923.1 113.7 925.9 113.7 927.7 115.9 930.3 132.4 933 135.3 935.7 132.4 938.3 156.5 940.7 156.1 943.3 151.2 947.7 152.8 950.3 123.7 953 124.4 955.7 123.7 958.3 99 960.1 96.8 962.9 96.8 964.7 99 967.3 126.5 971.7 126.2 974.3 155.8 976.7 156.3 979.3 150.6 981.7 150.4 984.3 106.2 988 107.6 991.7 106.2 994.3 93.4 996.1 91.2 998.9 91.2 1000.7 93.4 1003.3 117.1 1006.7 117.1 1009.3 156.2 1011.7 157.1 1014.3 161 1018.7 160.4 1021.3 102.1 1022.8 99.9 1025.2 99.9 1026.7 102.1 1029.2 106.3 1030.8 108.2 1033.3 157 1037.7 156.1 1040.3 151.1 1043.4 152.1 1046.5 149.8 1049.6 150.2 1052.7 151.1 1055.3 116.1 1059.7 116.2 1062.3 101.5 1063.8 99.3 1066.2 99.3 1067.7 101.5 1069.3 129.9 1069.7 130.1 1071.3 151.1 1075 150.9 1078.7 152.9 1082.3 149 1086 152.9 1089.7 151.1 1092.3 143 1095.7 142.4 1098.3 99 1099.8 96.8 1102.2 96.8 1103.7 99 1105.9 137.2 1107.1 137.8 1109.3 144.6 1111.7 145.2 1114.3 156.1 1116.7 155.5 1119.3 147.4 1123 149.3 1126.7 147.4 1129.2 142.9 1130.8 142.6 1133.3 102.1 1134.8 99.9 1137.2 99.9 1138.7 102.1 1141.3 141.1 1144 143.5 1146.7 141.1 1149.3 156.9 1152.7 155.9 1155.3 147.4 1158.8 147.6 1162.2 147.7 1165.7 147.4 1168.3 89.7 1170.2 87.5 1172.8 87.5 1174.7 89.7 1177.3 136.1 1180 136.9 1182.7 136.1 1185.3 156.5 1188.7 156.2 1191.3 142.4 1194.4 142.6 1197.5 140.6 1200.6 142 1203.7 142.4 1206.3 114.6 1208.2 112.4 1210.8 112.4 1212.7 114.6 1215.3 125.9 1218.7 126.1 1221.3 155.6 1223.7 155.8 1226.3 152.4 1229.5 150.9 1232.7 152.4 1235.3 121.2 1238 121.2 1240.7 121.2 1243.3 87.8 1244.8 85.6 1247.2 85.6 1248.7 87.8 1251.3 116.7 1255.7 118.4 1258.3 155.8 1260.7 156.9 1263.3 154.8 1266.7 154.9 1269.3 98.4 1271.2 96.2 1273.8 96.2 1275.7 98.4 1277.9 114.6 1279.1 113.6 1281.3 156 1284 158.4 1286.7 156 1289.3 149.9 1292.7 148.9 1296 150.5 1299.3 150.7 1302.7 149.9 1305.3 116.3 1307.7 115.8 1310.3 107.8 1311.8 105.6 1314.2 105.6 1315.7 107.8 1317.9 145.7 1319.1 144.7 1321.3 156.1 1324.5 156.2 1327.7 156.1 1330.3 147.4 1333.4 145.5 1336.5 147.3 1339.6 145.2 1342.7 147.4 1345.3 99.7 1347.2 97.5 1349.8 97.5 1351.7 99.7 1353.9 104.4 1355.1 104 1357.3 148.2 1361.7 147.3 1364.3 153 1366.7 153.3 1369.3 147.4 1372.4 146.1 1375.6 146.7 1378.7 147.4 1381.3 101.5 1383.2 99.3 1385.8 99.3 1387.7 101.5 1390.3 131.9 1392.7 132.9 1395.2 143 1396.8 142.7 1399.3 155.4 1401.7 156 1404.3 147.4 1408.1 147.1 1411.9 145.9 1415.7 147.4 1418.3 90.9 1420.2 88.7 1422.8 88.7 1424.7 90.9 1427.3 138.1 1429.7 138.6 1431.3 137.2 1431.7 135.8 1433.3 156.7 1436.7 154.9 1439.3 147.4 1442.7 145.8 1446 148.1 1449.3 146.3 1452.7 147.4 1455.3 118.4 1457.5 116.2 1460.5 116.2 1462.7 118.4 1465.3 132.2 1467.7 133.4 1470.3 182.3 1474.2 182.1 1478.1 183.1 1482 182.3 L1482 291.6 1479.9 291.2 1477.7 350.2 1475.3 350.1 1472.7 350.5 1472.2 351.1 1470.8 351.1 1470.3 350.5 1467.7 312.4 1464 313 1460.3 312.4 1457.7 356.4 1455.8 358.6 1453.2 358.6 1451.3 356.4 1448.7 350.8 1446.3 349.7 1443.8 341.7 1442.2 342.2 1439.7 343.4 1438.2 344.9 1435.8 344.9 1434.3 343.4 1431.7 318.7 1428 316.8 1424.3 318.7 1421.7 358.9 1420.2 361.1 1417.8 361.1 1416.3 358.9 1413.7 344.5 1410.3 345.7 1408.1 341.6 1406.9 342.4 1404.7 341.1 1402 340.8 1399.3 341.1 1396.7 322.4 1394.3 321.9 1391.7 326.3 1387.3 327.7 1384.7 352.7 1383.9 354.9 1382.1 354.9 1381.3 352.7 1378.7 350.4 1374.3 350.2 1371.7 316.9 1367.3 316.7 1364.7 332.7 1364.2 334.9 1362.8 334.9 1362.3 332.7 1359.7 327.4 1356 326.8 1352.3 327.4 1349.7 352.7 1345.8 354.9 1341.2 354.9 1337.3 352.7 1334.7 342 1332 342 1329.3 342 1327.1 339.3 1325.9 339.9 1323.7 336.2 1320.5 336.5 1317.3 336.2 1314.7 333.7 1312 332.4 1309.3 333.7 1306.7 342.7 1305.5 344.9 1303.5 344.9 1302.3 342.7 1299.7 317.4 1296.5 318.9 1293.3 317.4 1290.8 349.3 1289.2 349.9 1286.7 358.9 1281.3 361.1 1275.7 361.1 1270.3 358.9 1267.7 353.6 1264.6 354.9 1261.4 353.2 1258.3 353.6 1255.7 301.2 1252.5 301.3 1249.3 301.2 1246.7 352.4 1243 352.8 1239.3 352.4 1236.7 353.6 1236.2 354.9 1234.8 354.9 1234.3 353.6 1231.7 343.2 1229.3 342.6 1226.7 347.7 1225.2 349.9 1222.8 349.9 1221.3 347.7 1218.7 306.8 1215 305.2 1211.3 306.8 1208.7 357.7 1207.5 359.9 1205.5 359.9 1204.3 357.7 1201.7 349.9 1198.3 352 1195.7 342.2 1191.3 342.1 1188.7 343.4 1187.9 344.9 1186.1 344.9 1185.3 343.4 1182.7 318.7 1179 317.7 1175.3 318.7 1172.7 355.2 1169.8 357.4 1166.2 357.4 1163.3 355.2 1160.7 342 1158 342.7 1155.3 342 1152.8 339.4 1151.2 339.6 1148.8 323.4 1147.2 324.5 1144.7 327.4 1142 327.9 1139.3 327.4 1136.7 353.9 1133.8 356.1 1130.2 356.1 1127.3 353.9 1124.7 316.6 1121.3 316.7 1118.7 331.5 1117.5 333.7 1115.5 333.7 1114.3 331.5 1111.7 327.5 1109.3 325.9 1106.7 330.3 1102.3 329.1 1099.7 352.7 1096.8 354.9 1093.2 354.9 1090.3 352.7 1087.7 322.4 1083.5 322.9 1079.3 322.4 1076.7 331.9 1072.3 332.7 1069.7 334.2 1067.3 333.9 1064.7 340.2 1061.5 342.4 1057.5 342.4 1054.3 340.2 1051.7 316.8 1048.6 315.1 1045.4 314.8 1042.3 316.8 1039.7 353.3 1035.3 352.7 1032.7 354.9 1030.8 356.1 1028.2 356.1 1026.3 354.9 1023.7 346.4 1021.3 347.2 1018.7 342.2 1016.3 340.8 1014.1 354.4 1012.9 355.6 1010.7 352.5 1008.3 352 1005.7 342 1003 340.4 1000.3 342 997.7 352.7 993.4 354.9 988.6 354.9 984.3 352.7 981.8 341.9 980.2 342.8 978.4 354.7 977.6 354 975.7 351.3 973.3 351.7 970.7 306.2 968 304.4 965.3 306.2 963.4 329.2 962.6 329 960.7 358.9 957.1 361.1 952.9 361.1 949.3 358.9 947.7 349.9 947.3 349.5 946.1 342 944.9 341.6 942.8 348 942.6 349.9 941.4 349.9 941.2 348 938.7 346.5 936.3 346.9 933.7 313.7 930 315.5 926.3 313.7 923.7 365.1 922.9 367.3 921.1 367.3 920.3 365.1 917.7 355.9 913.3 356.7 910.7 342 908 342.1 905.3 342 902.7 342.2 902.2 342.4 900.8 342.4 900.3 342.2 897.7 323 894.3 321.7 891.8 316.3 890.2 315.1 887.7 366.4 886.9 368.6 885.1 368.6 884.3 366.4 881.7 347.4 879 349.4 876.3 347.4 873.7 317.5 871.3 317.7 868.7 334 867.9 336.2 866.1 336.2 865.3 334 862.7 324.9 859 325.8 855.3 324.9 852.7 351.4 848.4 353.6 843.6 353.6 839.3 351.4 836.8 314.7 835.2 315 832.7 327.4 829 328.3 825.3 327.4 822.7 333.8 819.3 334 816.7 341.8 815.2 342.4 812.8 342.4 811.3 341.8 808.7 341.1 805.5 342.5 802.3 341.1 799.7 342 797 342.8 794.3 342 791.8 349.7 790.2 350.4 787.7 356.4 785.5 358.6 782.5 358.6 780.3 356.4 777.7 350.5 775.3 349.7 772.7 329.9 769.5 329.9 766.3 329.9 763.7 353.9 762.9 356.1 761.1 356.1 760.3 353.9 757.7 342 755 340.2 752.3 342 749.7 351.1 746 351.3 742.3 351.1 739.7 357.7 738.9 359.9 737.1 359.9 736.3 357.7 733.7 341.8 731.3 341.3 728.7 350.2 728.2 352.4 726.8 352.4 726.3 350.2 723.7 308.1 720.6 307.2 717.4 308 714.3 308.1 711.7 353 709.5 354.9 706.5 354.9 704.3 353 701.8 350.7 700.2 351.8 697.8 341.6 696.2 341.3 693.7 346.4 692.9 348.6 691.1 348.6 690.3 346.4 687.7 314.1 684.3 315.6 681.7 322 679.3 322.2 676.7 357.7 674.9 359.9 672.1 359.9 670.3 357.7 667.7 350.5 663.3 349.3 660.8 341.7 659.2 340.9 656.7 342.8 656.2 343.6 654.8 343.6 654.3 342.8 651.7 315.9 648.3 315.9 645.7 329.9 642.5 331.9 639.3 329.9 636.8 348.9 635.2 350.3 632.7 350.8 631.5 351.7 629.5 351.7 628.3 350.8 625.7 347.6 623.3 348 620.7 337.9 616.3 339 613.7 308.7 610 307.6 606.3 308.7 603.7 344.8 601.3 345.4 598.7 367.7 593 367.2Z" fill="#00ff00"/>
<path d="M687 155H694L692.5 179.8H689ZM722 155H728L726.7 182.3H723.7ZM758 155H765L763.5 188.5H760ZM784 155H790L788.7 178.6H785.7ZM865 155H870L868.9 167.3H866.4ZM900 155H904L903.1 174.8H901.1ZM937 155H942L940.9 179.8H938.4ZM973 155H978L976.9 182.3H974.4ZM1008 155H1013L1011.9 189.8H1009.4ZM1032 155H1039L1037.5 173.6H1034ZM1113 155H1118L1116.9 166.1H1114.4ZM1148 155H1154L1152.7 169.8H1149.7ZM1184 155H1190L1188.7 178.6H1185.7ZM1220 155H1225L1223.9 182.3H1221.4ZM1257 155H1262L1260.9 187.3H1258.4ZM1280 155H1288L1286.2 178.6H1282.2ZM1398 155H1403L1401.9 172.3H1399.4ZM1432 155H1438L1436.7 178.6H1433.7ZM658 343H662L661 329.9H659ZM695 343H699L698 318.7H696ZM730 343H735L733.8 324.9H731.2ZM751 343H759L757 301.2H753ZM793 343H801L799 319.9H795ZM904 343H912L910 319.9H906ZM944 343H947L946.2 322.4H944.8ZM979 343H983L982 321.2H980ZM999 343H1007L1005 303.1H1001ZM1015 343H1020L1018.8 328.7H1016.2ZM1154 343H1162L1160 329.9H1156ZM1190 343H1197L1195.2 318.7H1191.8ZM1228 343H1233L1231.8 321.2H1229.2ZM1328 343H1336L1334 317.4H1330ZM1406 343H1409L1408.2 317.4H1406.8ZM1441 343H1445L1444 317.4H1442Z" fill="#0000ff"/>
<path d="M690.5 177.8L689 227.8M725 180.3L723.5 221.7M761.5 186.5L760 223.5M787 176.6L785.5 225.9M867.5 165.3L866 214.6M902 172.8L900.5 207.4M939.5 177.8L938 226M975.5 180.3L974 211.8M1010.5 187.8L1009 229.7M1035.5 171.6L1034 202.9M1115.5 164.1L1114 198.1M1151 167.8L1149.5 199.4M1187 176.6L1185.5 217.7M1222.5 180.3L1221 222M1259.5 185.3L1258 232M1284 176.6L1282.5 208.7M1400.5 170.3L1399 214.9M1435 176.6L1433.5 224.3" fill="none" stroke="#006a90" stroke-opacity="0.45" stroke-width="1.6"/>
</g>
<path d="M595.5 265 V239.4 H1477" fill="none" stroke="#ff0000" stroke-width="7.2"/>
<g fill="#000">
<rect x="1348.7" y="472.2" width="25.0" height="7.2"/>
<rect x="1399.5" y="472.2" width="26.5" height="7.2"/>
<rect x="1451.3" y="472.2" width="25.0" height="7.2"/>
<rect x="1502" y="472.2" width="26.0" height="7.2"/>
<rect x="1373.7" y="587" width="24.9" height="7"/>
<rect x="1425.4" y="587" width="25.0" height="7"/>
<rect x="1476.3" y="587" width="24.9" height="7"/>
<rect x="1339.6" y="499.8" width="6" height="28.5"/>
<rect x="1339.6" y="559.5" width="6" height="34.3"/>
<rect x="1527.7" y="505" width="6" height="27.8"/>
<rect x="1527.7" y="565" width="6" height="28.8"/>
<rect x="1426.8" y="385" width="6.6" height="94"/>
<path d="M1430 369 L1441.5 403 L1430 393 L1418.5 403 Z"/>
</g>
</g>
<g id="labels" filter="url(#blurText)">
<text transform="matrix(0.3484 0.0000 0.0000 0.4074 311.4255 74.1852)" font-size="200" fill="#262626" xml:space="preserve">1500</text>
<text transform="matrix(0.3484 0.0000 0.0000 0.4037 311.4255 310.6926)" font-size="200" fill="#262626" xml:space="preserve">1000</text>
<text transform="matrix(0.3451 0.0000 0.0000 0.4074 347.2394 548.1852)" font-size="200" fill="#262626" xml:space="preserve">500</text>
<text transform="matrix(0.3619 0.0000 0.0000 0.4074 414.7048 785.1852)" font-size="200" fill="#262626" xml:space="preserve">0</text>
<text transform="matrix(0.3571 0.0000 0.0000 0.4074 452.7429 853.1852)" font-size="200" fill="#262626" xml:space="preserve">0</text>
<text transform="matrix(0.3649 0.0000 0.0000 0.4198 799.1622 854.0000)" font-size="200" fill="#262626" xml:space="preserve">1</text>
<text transform="matrix(0.3928 0.0000 0.0000 0.4167 1144.8578 854.0000)" font-size="200" fill="#262626" xml:space="preserve">2</text>
<text transform="matrix(0.3576 0.0000 0.0000 0.4104 1496.3388 853.1791)" font-size="200" fill="#262626" xml:space="preserve">3</text>
<text transform="matrix(0.3376 0.0000 0.0000 0.4198 1847.1871 854.0000)" font-size="200" fill="#262626" xml:space="preserve">4</text>
<text transform="matrix(0.3706 0.0000 0.0000 0.4135 2197.5353 853.1729)" font-size="200" fill="#262626" xml:space="preserve">5</text>
<text transform="matrix(0.2852 0.0000 0.0000 0.3444 491.7183 215.3111)" font-size="200" fill="#262626" xml:space="preserve">500</text>
<text transform="matrix(0.2803 0.0000 0.0000 0.3444 493.1592 361.8111)" font-size="200" fill="#262626" xml:space="preserve">400</text>
<text transform="matrix(0.2966 0.0000 0.0000 0.3519 731.3271 452.4444)" font-size="200" fill="#262626" xml:space="preserve">2.6</text>
<text transform="matrix(0.2923 0.0000 0.0000 0.3493 1082.6613 452.4522)" font-size="200" fill="#262626" xml:space="preserve">2.8</text>
<text transform="matrix(0.3094 0.0000 0.0000 0.3545 1456.2247 452.7910)" font-size="200" fill="#262626" xml:space="preserve">3</text>
<text transform="matrix(0.4475 0.0000 0.0000 0.5389 1182.3574 932.3667)" font-size="200" fill="#262626" xml:space="preserve">Time<tspan dx="-16.8" letter-spacing="5.6"> (s)</tspan></text>
<text transform="matrix(0.3391 0.0000 0.0000 0.3972 1658.4827 124.8085)" font-size="200" fill="#000" xml:space="preserve">Without<tspan dx="-10" letter-spacing="1.1"> variation</tspan></text>
<text transform="matrix(0.3385 0.0000 0.0000 0.3936 1658.4844 219.8191)" font-size="200" fill="#000" xml:space="preserve">With<tspan dx="-6.7" letter-spacing="0.7"> variation</tspan></text>
<text transform="matrix(0.3376 0.0000 0.0000 0.3803 1657.9872 315.2394)" font-size="200" fill="#000" xml:space="preserve">Reference</text>
<text transform="matrix(0.0000 -0.5340 0.4651 0.0000 74.4651 568.6020)" font-size="200" fill="#262626" xml:space="preserve">Torque</text>
<text transform="matrix(0.0000 -0.5363 0.4389 0.0000 285.5667 520.8267)" font-size="200" fill="#262626" xml:space="preserve">(Nm)</text>
</g>
</svg>
</body>
</html>
